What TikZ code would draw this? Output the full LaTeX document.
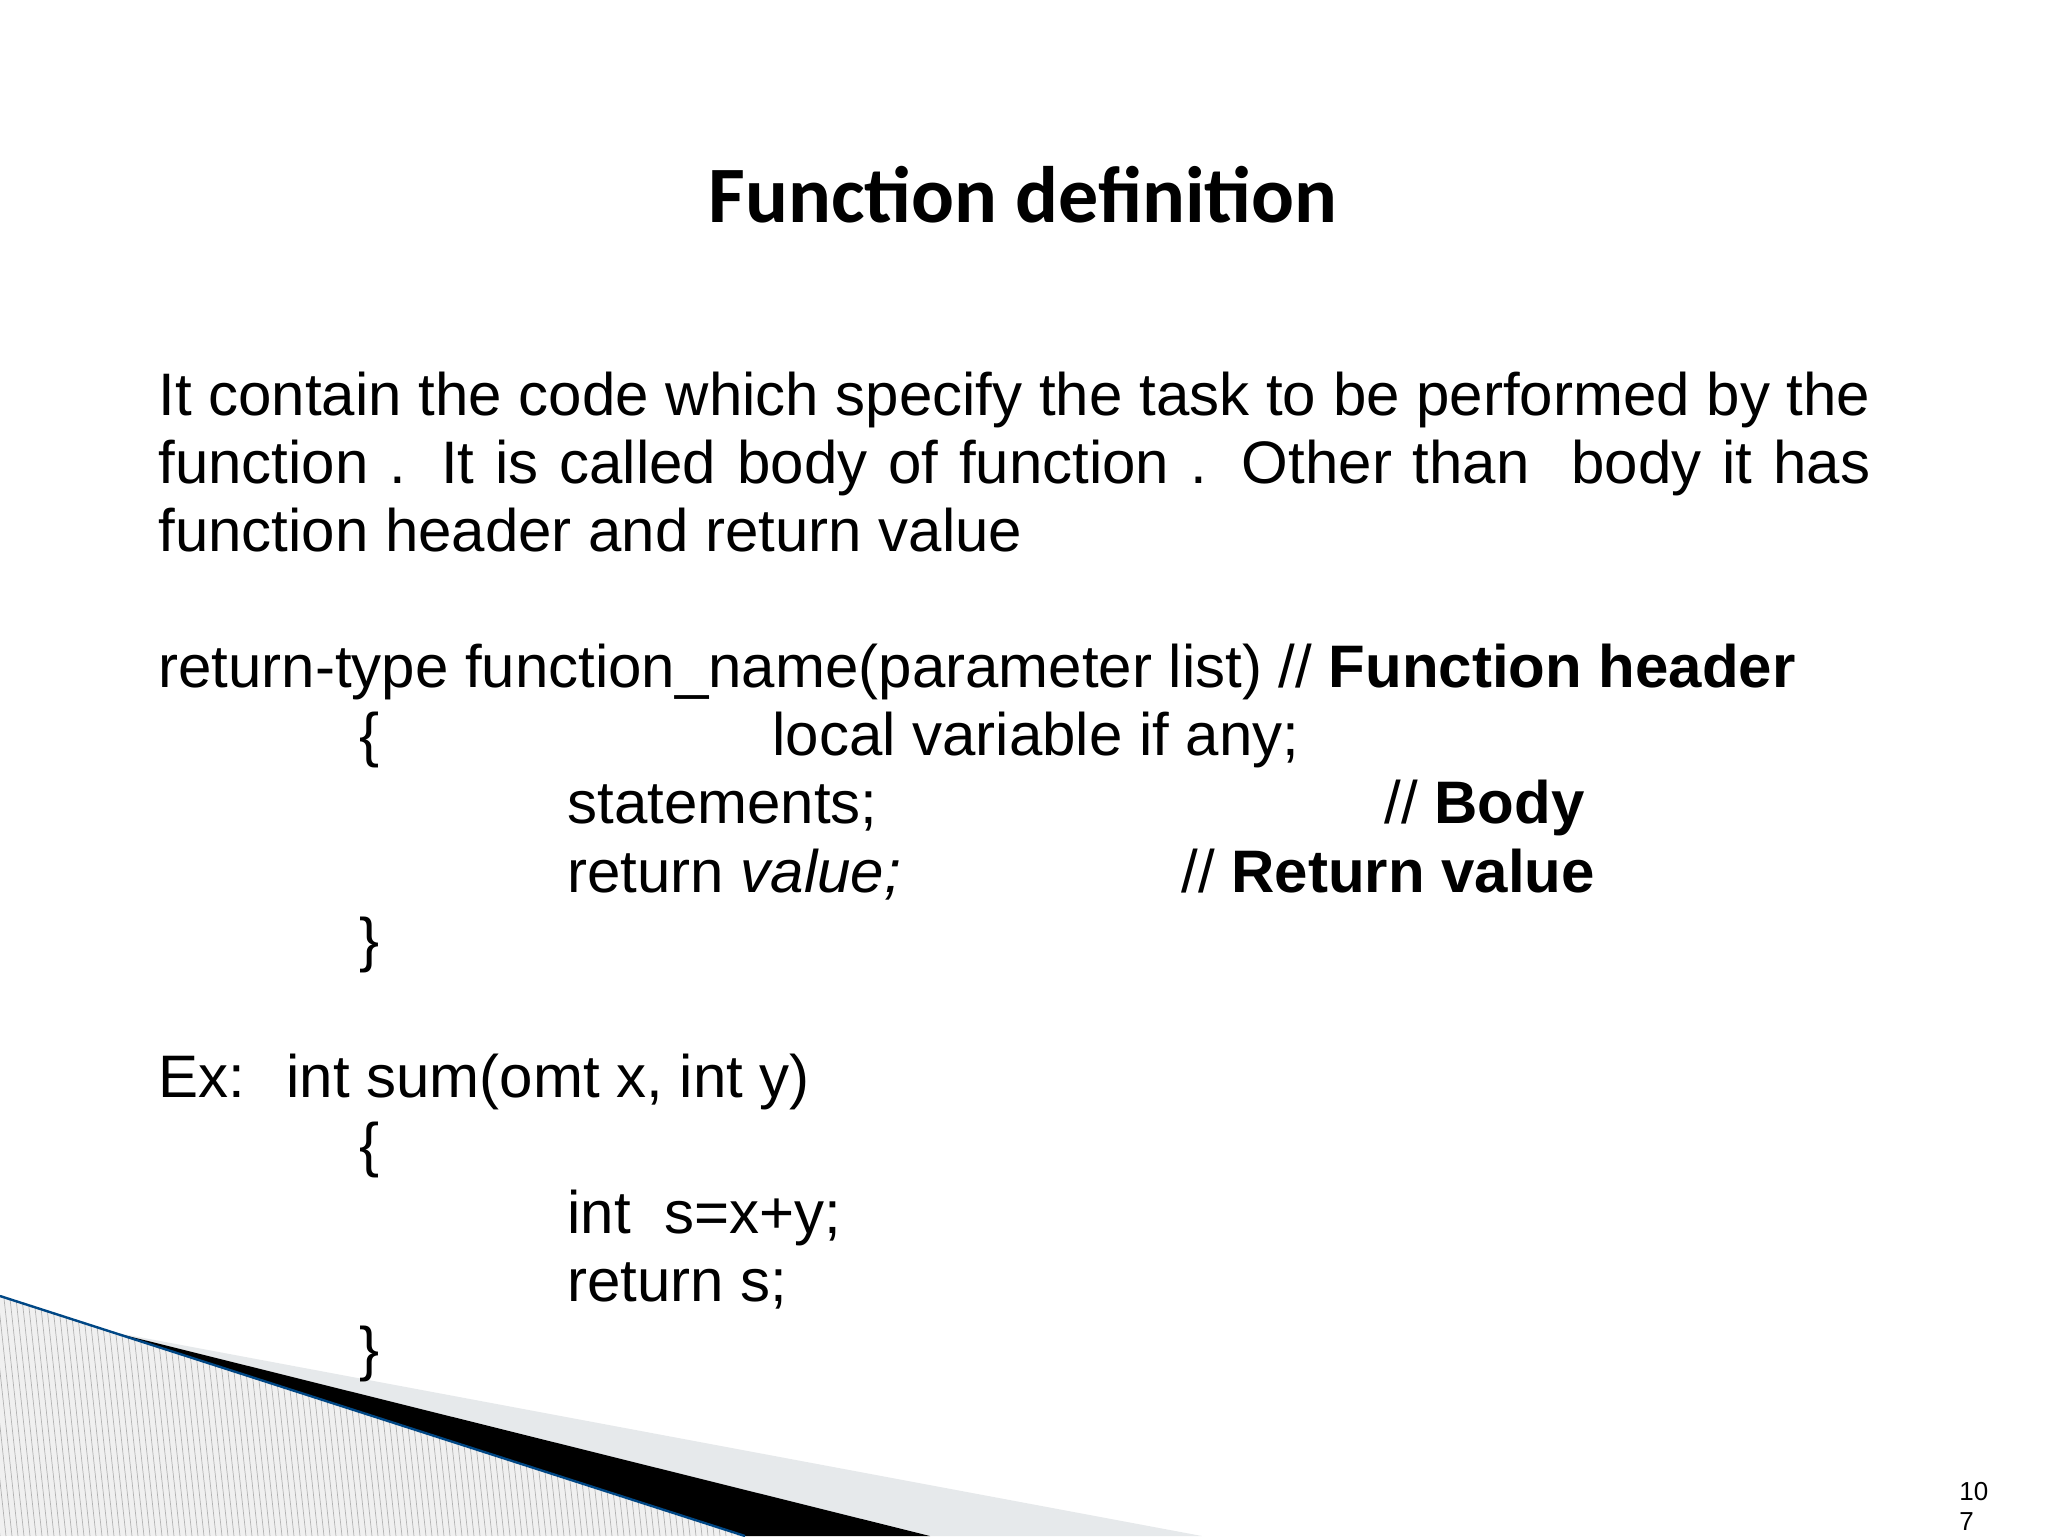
\documentclass[tikz,border=0pt]{standalone}
\usepackage{fontspec}
\setmainfont{Liberation Sans}
\newfontfamily\titlefont{Carlito}
\begin{document}
\begin{tikzpicture}[x=0.5pt,y=-0.5pt,
  txt/.style={anchor=base west,inner sep=0pt,font=\fontsize{30}{34}\selectfont},
  ttl/.style={anchor=base,inner sep=0pt,font=\titlefont\bfseries\fontsize{40}{44}\selectfont}]
\useasboundingbox (0,0) rectangle (2048,1536);
% decoration
\begin{scope}
\clip (0,1296) -- (745,1536) -- (0,1536) -- cycle;
\fill[gray!12] (0,1280) rectangle (760,1536);
\foreach \i in {-40,-34,...,760} \draw[gray!60,line width=0.35pt] (\i,1280) -- (\i+28,1536);
\end{scope}
\fill[blue!30!cyan!15!white, fill=cyan!10!gray!20] (112,1332) -- (1202,1536) -- (930,1536) -- cycle;
\fill[black] (112,1332) -- (930,1536) -- (745,1536) -- cycle;
\draw[teal!70!blue!80!black,line width=1.2pt] (0,1296) -- (745,1536);
% title
\node[ttl] (title) at (1023,222) {Function definition};
% paragraph
\node[txt] (p1) at (158,415) {\makebox[856pt][s]{It contain the code which specify the task to be performed by the}};
\node[txt] (p2) at (158,483) {\makebox[856pt][s]{function . It is called body of function . Other than \ body it has}};
\node[txt] (p3) at (158,551) {function header and return value};
% syntax
\node[txt] (h) at (158,687) {return-type function\_name(parameter list) // \textbf{Function header}};
\node[txt] (b1) at (359,755) {\{};
\node[txt] (lv) at (772,755) {local variable if any;};
\node[txt] (st) at (567,823) {statements;};
\node[txt] (bd) at (1384,823) {// \textbf{Body}};
\node[txt] (rv) at (567,892) {return \textit{value;}};
\node[txt] (rc) at (1181,892) {// \textbf{Return value}};
\node[txt] (b2) at (359,960) {\}};
% example
\node[txt] (ex) at (158,1097) {Ex:};
\node[txt] (sig) at (286,1097) {int sum(omt x, int y)};
\node[txt] (e1) at (359,1165) {\{};
\node[txt] (e2) at (567,1233) {int\ \ s=x+y;};
\node[txt] (e3) at (567,1301) {return s;};
\node[txt] (e4) at (359,1369) {\}};
% page number
\node[anchor=base west,inner sep=0pt,font=\fontsize{13}{15}\selectfont] (pg1) at (1959,1500) {10};
\node[anchor=base west,inner sep=0pt,font=\fontsize{13}{15}\selectfont] (pg2) at (1959,1530) {7};
\end{tikzpicture}
\end{document}
